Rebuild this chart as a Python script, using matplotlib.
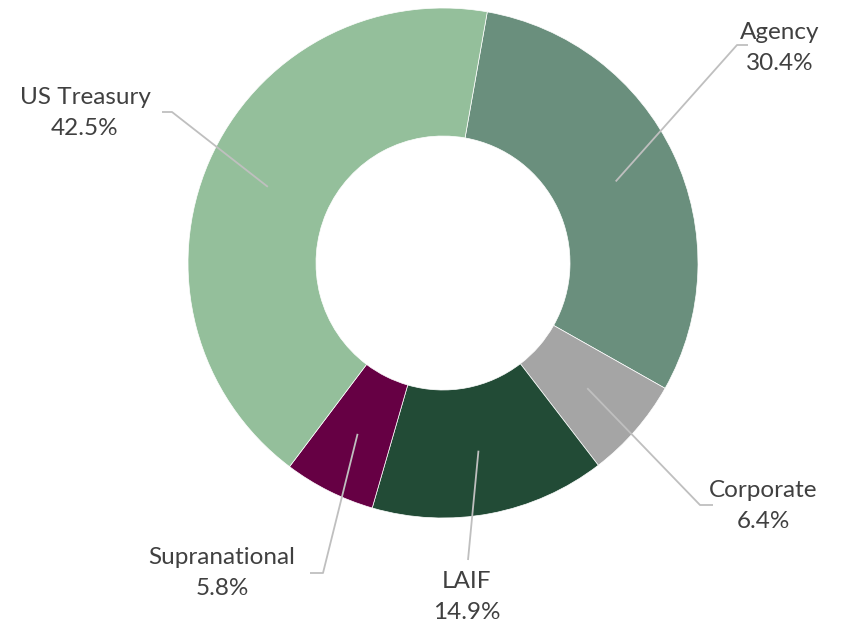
import numpy as np
import matplotlib.pyplot as plt

# data
labels = ['Agency', 'Corporate', 'LAIF', 'Supranational', 'US Treasury']
shares = [30.4, 6.4, 14.9, 5.8, 42.5]
colors = ['#6a8f7d', '#a5a5a5', '#224b36', '#660044', '#94bf9b']

# label layout in pixel coords (x, y from top): text centre, elbow, line end
text_pos = [(780, 48), (763, 506), (467, 597), (222, 573), (85, 113)]
elbow = [(737, 45), (700, 505), (468, 560), (323, 573), (172, 112)]
line_end = [(748, 45), (713, 505), (468, 560), (310, 573), (162, 112)]

W, H = 859, 633
cx, cy, R, r_in = 443, 263, 255, 127
first_angle = 10  # degrees clockwise from 12 o'clock

fig = plt.figure(figsize=(W / 100, H / 100), dpi=100)
ax = fig.add_axes([0, 0, 1, 1])
plt.rcParams['font.family'] = ['Lato', 'DejaVu Sans']

ax.pie(shares, colors=colors, startangle=90 - first_angle, counterclock=False,
       center=(cx, H - cy), radius=R, frame=False,
       wedgeprops=dict(width=R - r_in, edgecolor='white', linewidth=0.5))

# leader lines from middle of ring to labels
cum = first_angle
rmid = (R + r_in) / 2
for i in range(len(labels)):
    mid = cum + shares[i] / 100 * 360 / 2
    cum += shares[i] / 100 * 360
    a = np.radians(mid)
    sx = cx + rmid * np.sin(a)
    sy = H - (cy - rmid * np.cos(a))
    ex, ey = elbow[i]
    lx, ly = line_end[i]
    ax.plot([sx, ex, lx], [sy, H - ey, H - ly], color='#bfbfbf', lw=1.3,
            solid_capstyle='butt')
    tx, ty = text_pos[i]
    ax.text(tx, H - ty, '%s\n%.1f%%' % (labels[i], shares[i]), ha='center',
            va='center', fontsize=17.5, color='#404040', linespacing=1.55)

ax.set_xlim(0, W)
ax.set_ylim(0, H)
ax.set_aspect('equal')
ax.axis('off')
fig.savefig('out.png', dpi=100, facecolor='white')
